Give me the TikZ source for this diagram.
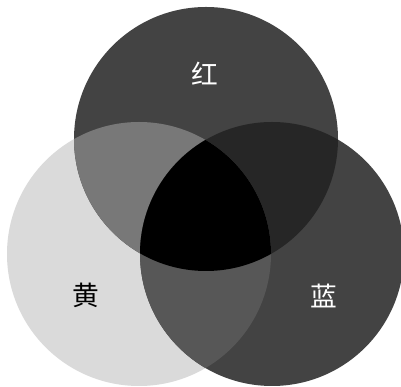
\documentclass[tikz,border=0pt]{standalone}
\usepackage{fontspec}
\newfontfamily\cjk{Noto Sans CJK SC}
\definecolor{scuro}{HTML}{434343}
\definecolor{chiaro}{HTML}{DADADA}
\definecolor{medio}{HTML}{787878}
\definecolor{notte}{HTML}{262626}
\definecolor{ombra}{HTML}{575757}
\tikzset{
  etichetta/.style={font=\cjk\fontsize{19}{21}\selectfont, inner sep=0pt}
}
\begin{document}
\begin{tikzpicture}[x=0.025cm,y=0.025cm]
  \useasboundingbox[fill=white] (0,0) rectangle (401,387);
  \clip (0,0) rectangle (401,387);
  \def\rosso{(206,248) circle (132)}
  \def\giallo{(139,133) circle (132)}
  \def\blu{(272,133) circle (132)}
  %cerchi
  \fill[chiaro] \giallo;
  \fill[scuro] \blu;
  \fill[scuro] \rosso;
  %intersezioni
  \begin{scope}
    \clip \rosso;
    \fill[medio] \giallo;
    \fill[notte] \blu;
  \end{scope}
  \begin{scope}
    \clip \giallo;
    \fill[ombra] \blu;
    \clip \rosso;
    \fill[black] \blu;
  \end{scope}
  %etichette
  \node[etichetta, white] (rosso) at (205,313) {红};
  \node[etichetta, black] (giallo) at (86,92) {黄};
  \node[etichetta, white] (blu) at (324,91) {蓝};
\end{tikzpicture}
\end{document}
